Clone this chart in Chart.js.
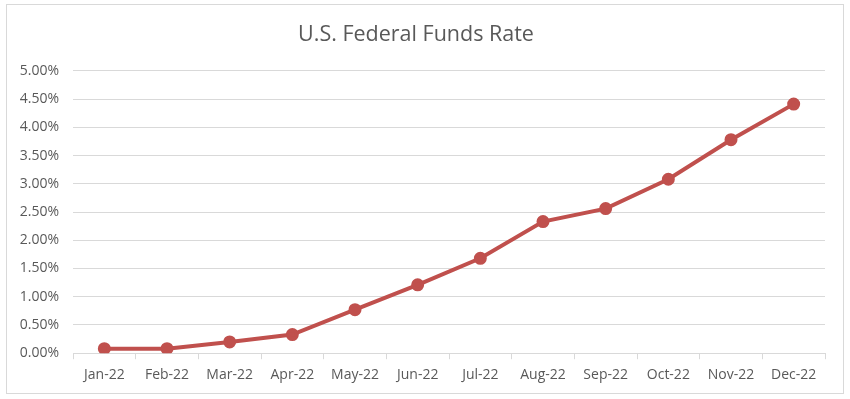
<!DOCTYPE html>
<html>
<head>
<meta charset="utf-8">
<script src="https://cdn.jsdelivr.net/npm/chart.js@4"></script>
<style>
  html, body { margin: 0; padding: 0; background: #fff; }
  #box {
    position: absolute; left: 6px; top: 4px;
    width: 836px; height: 388px;
    border: 1px solid #d9d9d9;
  }
  canvas { display: block; }
</style>
</head>
<body>
<div id="box"><canvas id="rate" width="836" height="388"></canvas></div>
<script>
// ставка ФРС по месяцам 2022, в процентах
const months = ["Jan-22", "Feb-22", "Mar-22", "Apr-22", "May-22", "Jun-22",
  "Jul-22", "Aug-22", "Sep-22", "Oct-22", "Nov-22", "Dec-22"];
const rateValues = [0.08, 0.08, 0.20, 0.33, 0.77, 1.21, 1.68, 2.33, 2.56, 3.08, 3.78, 4.41];
const yTicks = [0, 0.5, 1, 1.5, 2, 2.5, 3, 3.5, 4, 4.5, 5];

const lineColor = "#C0504D";
const textColor = "#595959";
const gridColor = "#d9d9d9";
const fontFamily = "'Open Sans', sans-serif";

const ctx = document.getElementById("rate").getContext("2d");

new Chart(ctx, {
  type: "line",
  data: {
    labels: months,
    datasets: [{
      label: "Federal Funds Rate",
      data: rateValues,
      borderColor: lineColor,
      backgroundColor: lineColor,
      borderWidth: 4,
      pointRadius: 4.5,
      pointBackgroundColor: lineColor,
      pointBorderColor: lineColor,
      tension: 0,
      fill: false,
    }],
  },
  options: {
    responsive: false,
    animation: false,
    layout: {
      padding: { left: 0, right: 18, top: 0, bottom: 3 },
    },
    plugins: {
      legend: { display: false },
      tooltip: { enabled: false },
      title: {
        display: true,
        text: "U.S. Federal Funds Rate",
        color: textColor,
        font: { family: fontFamily, size: 21.5, weight: "normal" },
        padding: { top: 17, bottom: 23 },
      },
    },
    scales: {
      x: {
        offset: true,
        grid: {
          offset: true,
          drawOnChartArea: false,
          drawTicks: true,
          tickLength: 6,
          color: gridColor,
        },
        border: { display: true, color: gridColor, width: 1 },
        ticks: {
          color: textColor,
          font: { family: fontFamily, size: 14 },
          padding: 7,
          maxRotation: 0,
          autoSkip: false,
        },
      },
      y: {
        min: 0,
        max: 5,
        afterBuildTicks: (scale) => {
          scale.ticks = yTicks.map((v) => ({ value: v }));
        },
        afterFit: (scale) => {
          scale.width = 66;
        },
        grid: {
          drawTicks: false,
          color: gridColor,
        },
        border: { display: false },
        ticks: {
          color: textColor,
          font: { family: fontFamily, size: 14 },
          padding: 14,
          callback: (value) => value.toFixed(2) + "%",
        },
      },
    },
  },
});
</script>
</body>
</html>
